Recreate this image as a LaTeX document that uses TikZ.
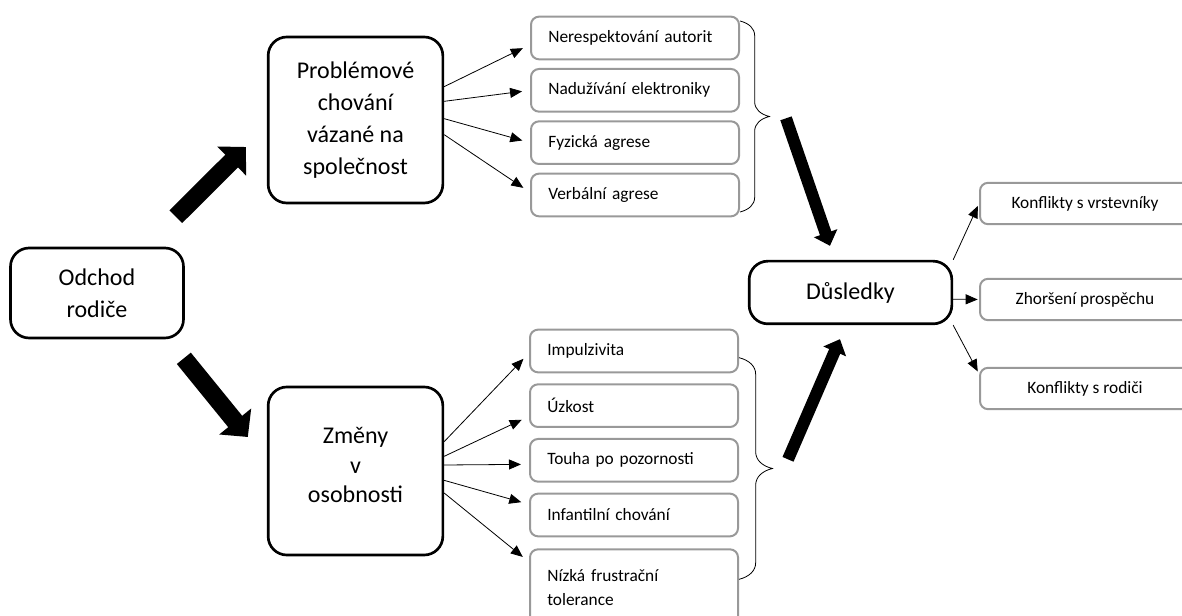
\documentclass[tikz,border=0pt]{standalone}
\usepackage{fontspec}
\setmainfont{Carlito}
\usepackage{tikz}
\tikzset{
     bigbox/.style={draw, line width=2pt, rounded corners=14pt, align=center, font=\fontsize{18}{24}\selectfont},
     greybox/.style={draw=black!40, line width=1.5pt, rounded corners=6pt, minimum height=32pt, text width=130pt, inner xsep=13pt, align=left, font=\fontsize{13}{18}\selectfont},
     resultbox/.style={draw=black!40, line width=1.5pt, rounded corners=6pt, minimum width=157.5pt, minimum height=31pt, font=\fontsize{13}{18}\selectfont},
     arrow/.style={line width=0.6pt, -{Triangle[length=9pt,width=7.5pt]}, shorten >=6pt},
     fatarrow/.style={line width=13.5pt, -{Triangle[length=15pt,width=30pt]}},
     slimarrow/.style={line width=9pt, -{Triangle[length=10pt,width=18pt]}},
     bracket/.style={decorate, decoration={brace, amplitude=#1, transform={yscale=2}}, line width=0.6pt}
     }
\usetikzlibrary{positioning,arrows.meta}
\usetikzlibrary{decorations.pathreplacing}

\begin{document}
\begin{tikzpicture}[x=0.75pt, y=-0.75pt]
                    \clip (0,0) rectangle (1182,616);
                    % Place nodes
                    \node[bigbox, minimum width=129.75pt, minimum height=67.5pt] (odchod) at (97,293) {Odchod\\rodiče};
                    \node[bigbox, minimum width=131pt, minimum height=124.5pt] (prob) at (355.5,120) {Problémové\\chování\\vázané na\\společnost};
                    \node[bigbox, minimum width=131pt, minimum height=126pt, text depth=9pt] (zmeny) at (355.5,471) {Změny\\[-2pt]v\\[-2pt]osobnosti};
                    \node[bigbox, minimum width=152pt, minimum height=47pt] (dus) at (850.5,292.5) {Důsledky};
                    % problem behaviour
                    \node[greybox] (ner) at (635,38) {Nerespektování autorit};
                    \node[greybox, below=5.75pt of ner] (nad) {Nadužívání elektroniky};
                    \node[greybox, below=5.75pt of nad] (fyz) {Fyzická agrese};
                    \node[greybox, below=5.75pt of fyz] (verb) {Verbální agrese};
                    % personality
                    \node[greybox] (imp) at (634,351) {Impulzivita};
                    \node[greybox, below=7.5pt of imp] (uzk) {Úzkost};
                    \node[greybox, below=7.5pt of uzk] (tou) {Touha po pozornosti};
                    \node[greybox, below=7.5pt of tou] (inf) {Infantilní chování};
                    \node[greybox, minimum height=57pt, below=8.25pt of inf] (niz) {Nízká frustrační\\tolerance};
                    % consequences
                    \node[resultbox] (kvrst) at (1085,203.5) {Konflikty s vrstevníky};
                    \node[resultbox] (zhor) at (1085,299.5) {Zhoršení prospěchu};
                    \node[resultbox] (krod) at (1085,388.5) {Konflikty s rodiči};
                    % Draw edges
                    \draw[fatarrow] ([xshift=-6.75pt,yshift=22.5pt]odchod.north east) -- ([xshift=-15.75pt,yshift=-20.25pt]prob.west);
                    \draw[fatarrow] ([xshift=-0.75pt,yshift=-14.25pt]odchod.south east) -- ([xshift=-14.25pt,yshift=25.5pt]zmeny.west);
                    \draw[slimarrow] ([xshift=34.5pt,yshift=1.5pt]fyz.north east) -- ([xshift=-15.4pt,yshift=10.5pt]dus.north);
                    \draw[slimarrow] ([xshift=36.75pt,yshift=0.75pt]tou.east) -- ([xshift=-7.9pt,yshift=-10.5pt]dus.south);
                    \draw[arrow] ([yshift=25pt]prob.east) -- ([yshift=-5pt]ner.west);
                    \draw[arrow] ([yshift=14pt]prob.east) -- (nad.west);
                    \draw[arrow] ([yshift=1pt]prob.east) -- (fyz.west);
                    \draw[arrow] ([yshift=-11pt]prob.east) -- ([yshift=2pt]verb.west);
                    \draw[arrow] ([yshift=22pt]zmeny.east) -- ([yshift=-1.5pt]imp.west);
                    \draw[arrow] ([yshift=11pt]zmeny.east) -- ([yshift=-8pt]uzk.west);
                    \draw[arrow] ([yshift=4.5pt]zmeny.east) -- ([yshift=-3pt]tou.west);
                    \draw[arrow] ([yshift=-7pt]zmeny.east) -- ([yshift=8pt]inf.west);
                    \draw[arrow] ([yshift=-16.5pt]zmeny.east) -- ([yshift=19pt]niz.west);
                    \draw[arrow, shorten >=2pt] (dus.north east) -- (kvrst.west);
                    \draw[arrow, shorten >=1pt] ([yshift=-5pt]dus.east) -- (zhor.west);
                    \draw[arrow, shorten >=2pt] (dus.south east) -- ([yshift=11pt]krod.west);
                    % braces
                    \draw[bracket=11pt] ([yshift=-4pt]ner.north east) -- ([yshift=4pt]verb.south east);
                    \draw[bracket=12.5pt] ([yshift=-5pt]imp.east) -- ([yshift=6pt]niz.east);
                \end{tikzpicture}
\end{document}
